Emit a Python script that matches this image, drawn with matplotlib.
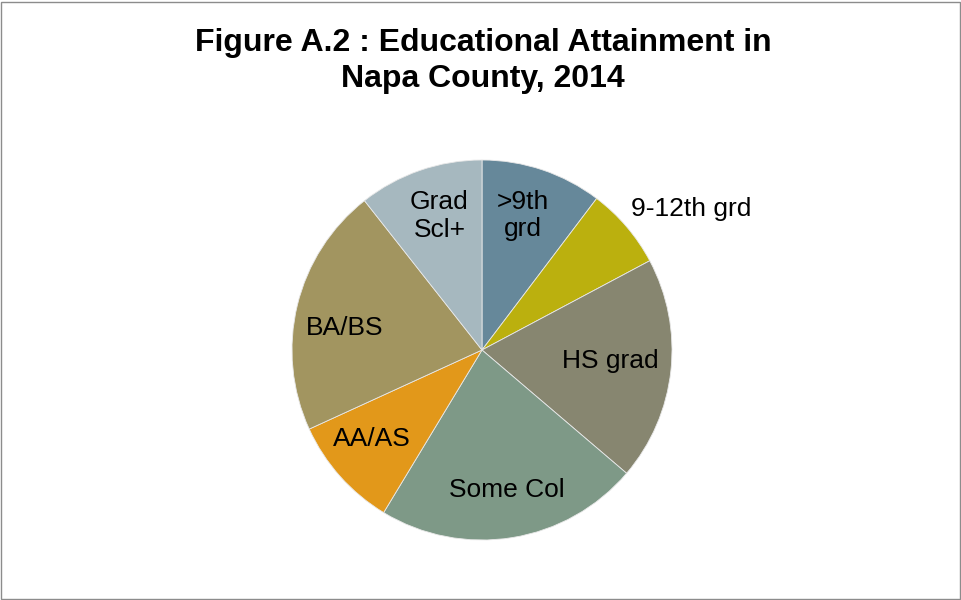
import matplotlib.pyplot as plt
import numpy as np
from matplotlib.patches import Rectangle

plt.rcParams['font.family'] = ['Liberation Sans', 'DejaVu Sans']

# data (percent of population 25+)
labels = ['>9th\ngrd', '9-12th grd', 'HS grad', 'Some Col', 'AA/AS', 'BA/BS', 'Grad\nScl+']
values = [10.3, 6.9, 19.0, 22.4, 9.5, 21.2, 10.6]
colors = ['#66889a', '#bbb00e', '#878670', '#7e9987', '#e2981a', '#a29560', '#a6b8bf']

# label distance from centre (fraction of radius) and angle nudge (deg)
label_r = [0.74, 1.08, 0.68, 0.75, 0.745, 0.73, 0.74]
label_da = [1.5, 0, 1.5, 1.0, -2.5, 4.3, -1.5]

fig = plt.figure(figsize=(9.62, 6), dpi=100)
fig.patch.set_facecolor('white')
fig.patches.append(Rectangle((0.001, 0.002), 0.997, 0.995, transform=fig.transFigure,
                             fill=False, edgecolor='#8c8c8c', linewidth=1.0))

ax = fig.add_axes([(482 - 190) / 962, (250 - 190) / 600, 380 / 962, 380 / 600])
wedges, _ = ax.pie(values, colors=colors, startangle=90, counterclock=False,
                   wedgeprops=dict(edgecolor='#e8e8e8', linewidth=0.6))
ax.set_xlim(-1, 1)
ax.set_ylim(-1, 1)
ax.set_aspect('equal')

for w, lab, r, da in zip(wedges, labels, label_r, label_da):
    ang = np.deg2rad((w.theta1 + w.theta2) / 2 + da)
    if lab == '9-12th grd':
        ang = np.deg2rad(90 - 46.6)
        ax.text(r * np.cos(ang), r * np.sin(ang), lab, ha='left', va='center',
                fontsize=19, clip_on=False, linespacing=1.2)
    else:
        ax.text(r * np.cos(ang), r * np.sin(ang), lab, ha='center', va='center',
                fontsize=19, clip_on=False, linespacing=1.2)

fig.text(483 / 962, 1 - 61 / 600, 'Figure A.2 : Educational Attainment in\nNapa County, 2014',
         ha='center', va='center', fontsize=23, fontweight='bold', linespacing=1.25)

fig.savefig('out.png', dpi=100)
